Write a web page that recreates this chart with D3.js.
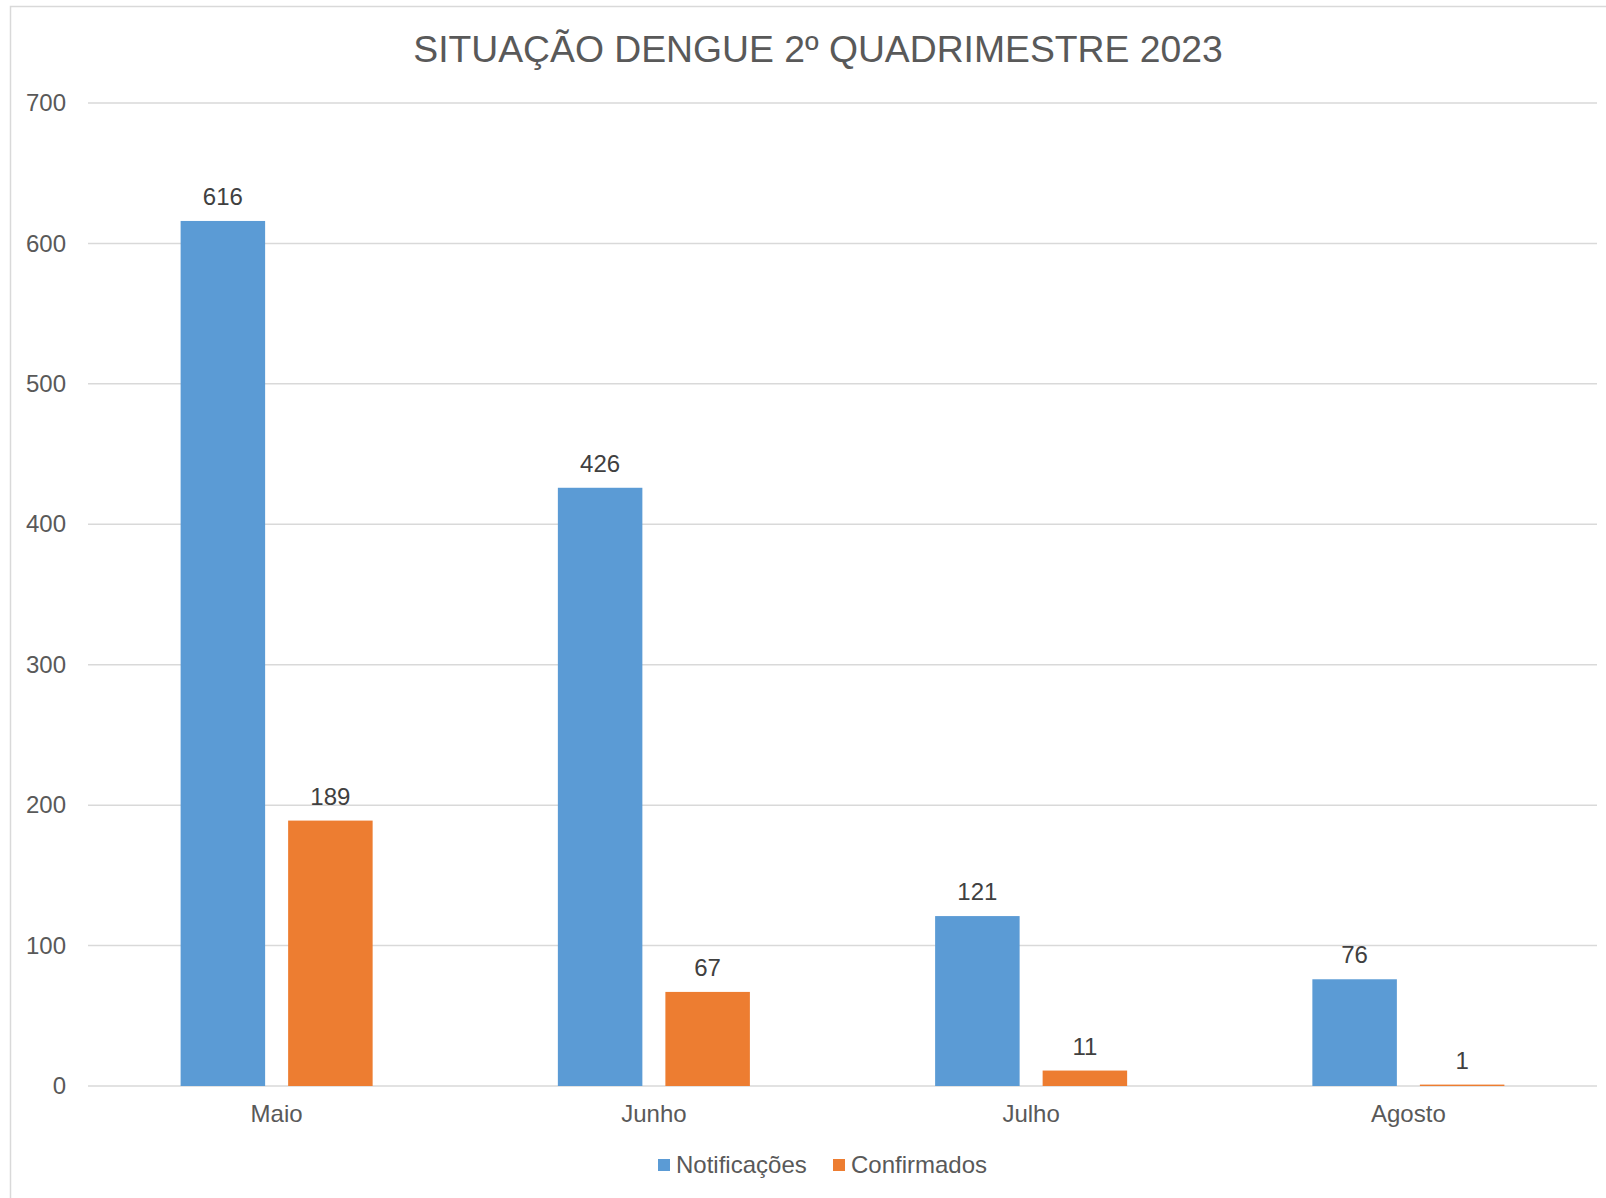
<!DOCTYPE html>
<meta charset="utf-8">
<style>
body { margin: 0; background: #fff; }
text { font-family: "Liberation Sans", Arial, sans-serif; }
.grid line { stroke: #d9d9d9; stroke-width: 1.5px; }
</style>
<body>
<script src="https://d3js.org/d3.v7.min.js"></script>
<script>

// data
var categories = ["Maio", "Junho", "Julho", "Agosto"];
var seriesNames = ["Notificações", "Confirmados"];
var notificacoes = [616, 426, 121, 76];
var confirmados = [189, 67, 11, 1];
var yTicks = [0, 100, 200, 300, 400, 500, 600, 700];
var colors = ["#5b9bd5", "#ed7d31"];

// plot area (note: "top" is reserved on window, so use other names)
var W = 1606, H = 1198;
var plotLeft = 88, plotRight = 1597, plotTop = 103, plotBottom = 1086;

var svg = d3.select("body").append("svg")
    .attr("width", W)
    .attr("height", H);

// chart border (cut off on right and bottom)
svg.append("rect")
    .attr("x", 10.5).attr("y", 6.5)
    .attr("width", 1700).attr("height", 1400)
    .attr("fill", "#fff")
    .attr("stroke", "#d9d9d9")
    .attr("stroke-width", 1.5);

// title
svg.append("text")
    .attr("x", 818).attr("y", 62)
    .attr("text-anchor", "middle")
    .attr("fill", "#595959")
    .style("font-size", "37.3px")
    .text("SITUAÇÃO DENGUE 2º QUADRIMESTRE 2023");

var y = d3.scaleLinear().domain([0, 700]).range([plotBottom, plotTop]);

var x0 = d3.scaleBand().domain(categories).range([plotLeft, plotRight])
    .paddingInner(0.491).paddingOuter(0.2455);

var x1 = d3.scaleBand().domain(seriesNames).range([0, x0.bandwidth()])
    .paddingInner(0.214);

// gridlines
svg.append("g")
    .attr("class", "grid")
  .selectAll("line")
  .data(yTicks)
  .join("line")
    .attr("x1", plotLeft).attr("x2", plotRight)
    .attr("y1", function(d) { return y(d); })
    .attr("y2", function(d) { return y(d); });

// y axis labels
var yAxis = d3.axisLeft(y).tickValues(yTicks).tickSize(0).tickPadding(0);
svg.append("g")
    .attr("transform", "translate(66,0)")
    .call(yAxis)
    .call(function(g) {
      g.select(".domain").remove();
      g.selectAll("text")
        .attr("fill", "#595959")
        .style("font-size", "24px")
        .style("font-family", "'Liberation Sans', Arial, sans-serif");
    });

// x axis labels
var xAxis = d3.axisBottom(x0).tickSize(0).tickPadding(0);
svg.append("g")
    .attr("transform", "translate(0," + plotBottom + ")")
    .call(xAxis)
    .call(function(g) {
      g.select(".domain").remove();
      g.selectAll("text")
        .attr("dy", null)
        .attr("y", 36)
        .attr("fill", "#595959")
        .style("font-size", "24px")
        .style("font-family", "'Liberation Sans', Arial, sans-serif");
    });

var rows = categories.map(function(c, i) {
  return { cat: c, values: [notificacoes[i], confirmados[i]] };
});

var groups = svg.append("g").selectAll("g")
  .data(rows)
  .join("g")
    .attr("transform", function(d) { return "translate(" + x0(d.cat) + ",0)"; });

groups.selectAll("rect")
  .data(function(d) { return d.values.map(function(v, j) { return { s: seriesNames[j], v: v, j: j }; }); })
  .join("rect")
    .attr("x", function(d) { return x1(d.s); })
    .attr("y", function(d) { return y(d.v); })
    .attr("width", x1.bandwidth())
    .attr("height", function(d) { return y(0) - y(d.v); })
    .attr("fill", function(d) { return colors[d.j]; });

groups.selectAll("text")
  .data(function(d) { return d.values.map(function(v, j) { return { s: seriesNames[j], v: v }; }); })
  .join("text")
    .attr("x", function(d) { return x1(d.s) + x1.bandwidth() / 2; })
    .attr("y", function(d) { return y(d.v) - 16; })
    .attr("text-anchor", "middle")
    .attr("fill", "#404040")
    .style("font-size", "24px")
    .text(function(d) { return d.v; });

// legend
var legendX = [658, 833];
var legend = svg.append("g").selectAll("g")
  .data(seriesNames)
  .join("g")
    .attr("transform", function(d, i) { return "translate(" + legendX[i] + ",1159)"; });

legend.append("rect")
    .attr("width", 12).attr("height", 12)
    .attr("fill", function(d, i) { return colors[i]; });

legend.append("text")
    .attr("x", 18).attr("y", 14)
    .attr("fill", "#595959")
    .style("font-size", "24px")
    .text(function(d) { return d; });

</script>
</body>
